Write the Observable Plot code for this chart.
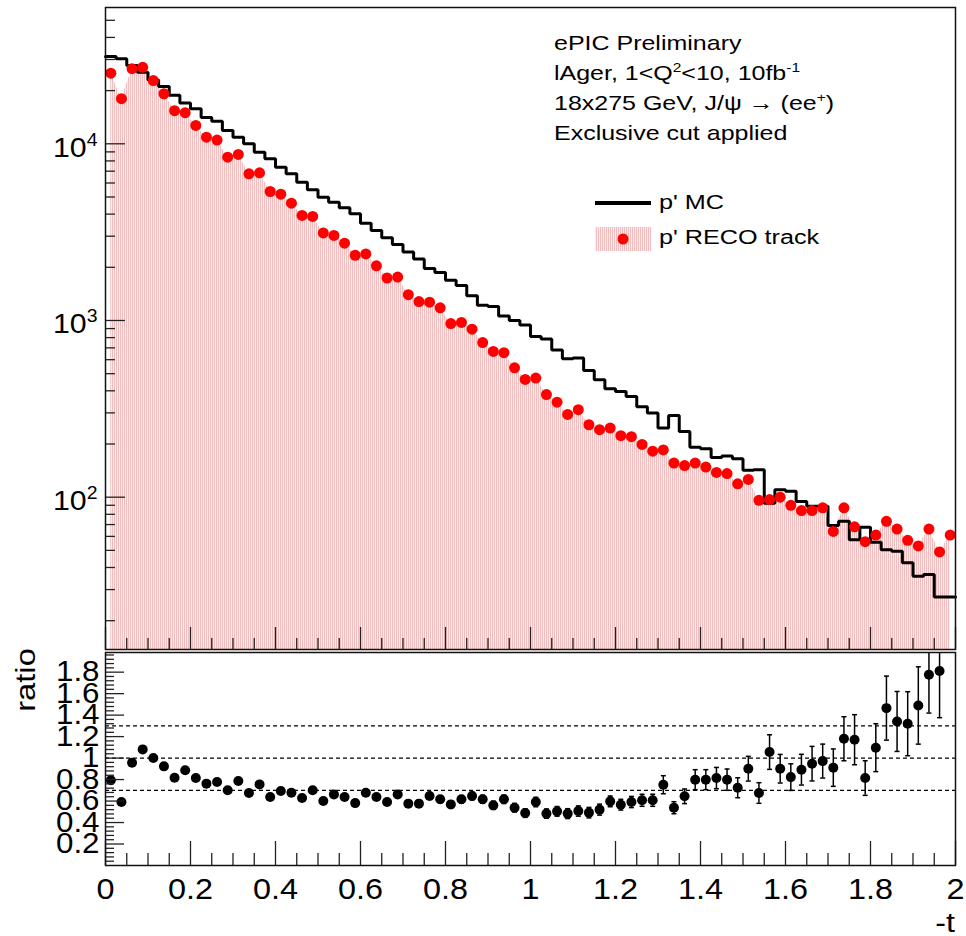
<!DOCTYPE html>
<html><head><meta charset="utf-8">
<script src="https://cdn.jsdelivr.net/npm/d3@7"></script>
<script src="https://cdn.jsdelivr.net/npm/@observablehq/plot@0.6"></script>
<style>
html,body{margin:0;padding:0;background:#fff;}
#wrap{position:relative;width:966px;height:936px;overflow:hidden;}
#wrap svg{position:absolute;left:0;display:block;overflow:visible;}
</style></head><body><div id="wrap"></div>
<script>
// ---- data ----
const binWidth = 0.025;           // -t bin width
const nBins = 80;                 // 0 .. 2
const recoCounts = [25100, 18000, 26600, 27100, 22800, 19200, 15400, 15000, 12700, 10900,
  10500, 8400, 8700, 6760, 6850, 5370, 5190, 4610, 3930, 3880,
  3130, 3030, 2740, 2340, 2380, 2040, 1740, 1760, 1400, 1280,
  1270, 1180, 960, 975, 893, 750, 668, 657, 540, 464,
  472, 381, 345, 294, 313, 257, 241, 246, 223, 220,
  199, 182, 185, 156, 151, 156, 148, 138, 136, 119,
  126, 96, 97, 100, 90, 84, 84, 87, 64, 87,
  68, 56, 61, 73, 66, 57, 53, 66, 49, 61];
const mcCounts = [31200, 30300, 27700, 25400, 23000, 21100, 18800, 17000, 15800, 14100,
  13400, 11900, 10900, 10000, 8970, 8230, 7370, 6770, 6060, 5490,
  4990, 4670, 4340, 4020, 3550, 3230, 2940, 2690, 2440, 2230,
  1970, 1870, 1690, 1580, 1380, 1220, 1200, 1060, 1000, 943,
  812, 786, 681, 608, 613, 521, 462, 411, 396, 371,
  325, 300, 246, 290, 235, 192, 188, 168, 171, 165,
  142, 143, 92.5, 110, 108, 94.6, 88.9, 88.9, 69.2, 73.1,
  57.4, 67.6, 55.6, 50.4, 49.5, 42.5, 35.7, 36.5, 27.2, 27.2];
const ratioValues = [0.793, 0.591, 0.957, 1.081, 1.0, 0.923, 0.817, 0.886, 0.814, 0.762,
  0.777, 0.70, 0.786, 0.675, 0.755, 0.637, 0.693, 0.678, 0.628, 0.70,
  0.60, 0.662, 0.637, 0.581, 0.678, 0.637, 0.591, 0.662, 0.576, 0.576,
  0.647, 0.616, 0.569, 0.616, 0.647, 0.616, 0.56, 0.616, 0.538, 0.488,
  0.591, 0.483, 0.504, 0.483, 0.507, 0.492, 0.52, 0.597, 0.566, 0.591,
  0.607, 0.607, 0.752, 0.538, 0.644, 0.799, 0.799, 0.814, 0.799, 0.724,
  0.901, 0.675, 1.056, 0.901, 0.823, 0.892, 0.948, 0.972, 0.911, 1.18,
  1.171, 0.814, 1.097, 1.465, 1.341, 1.32, 1.49, 1.776, 1.81, null];
const ratioErrors = [0.012, 0.010, 0.013, 0.014, 0.014, 0.014, 0.013, 0.015, 0.015, 0.015,
  0.016, 0.016, 0.017, 0.017, 0.018, 0.018, 0.019, 0.019, 0.020, 0.021,
  0.021, 0.022, 0.023, 0.023, 0.025, 0.025, 0.026, 0.027, 0.028, 0.029,
  0.031, 0.032, 0.033, 0.034, 0.036, 0.037, 0.038, 0.039, 0.040, 0.040,
  0.044, 0.043, 0.045, 0.046, 0.048, 0.049, 0.051, 0.050, 0.050, 0.052,
  0.056, 0.056, 0.084, 0.056, 0.068, 0.093, 0.093, 0.099, 0.099, 0.093,
  0.115, 0.096, 0.161, 0.133, 0.124, 0.143, 0.161, 0.158, 0.174, 0.205,
  0.233, 0.161, 0.223, 0.298, 0.279, 0.298, 0.36, 0.357, 0.434, null];
const xTickLabels = [0, 0.2, 0.4, 0.6, 0.8, 1, 1.2, 1.4, 1.6, 1.8, 2];
const yTickLabelsTop = [100, 1000, 10000];
const yTickLabelsRatio = [0.2, 0.4, 0.6, 0.8, 1, 1.2, 1.4, 1.6, 1.8];
const ratioRefLines = [0.7, 1, 1.3];
const legendLines = ["ePIC Preliminary", "lAger, 1<Q^{2}<10, 10fb^{-1}", "18x275 GeV, J/\u03C8 \u2192 (ee^{+})", "Exclusive cut applied"];
const seriesNames = ["p' MC", "p' RECO track"];

// ---- derived tables ----
const bins = recoCounts.map((reco, i) => ({
  lo: i * binWidth, hi: (i + 1) * binWidth, c: (i + 0.5) * binWidth,
  reco, mc: mcCounts[i], r: ratioValues[i], e: ratioErrors[i]
}));
const mcSteps = bins.flatMap(b => [{x: b.lo, y: b.mc}, {x: b.hi, y: b.mc}]);
const ratioPts = bins.filter(b => b.r != null);
const xMinor = d3.range(0, 2.0001, 0.05).map(v => +v.toFixed(3)).filter(v => Math.abs(v * 5 - Math.round(v * 5)) > 1e-6);
const yMinorTop = [1, 2, 3, 4].flatMap(p => d3.range(2, 10).map(k => k * 10 ** p)).filter(v => v > 13.74 && v < 59070);
const yMinorRatio = d3.range(1, 50).map(k => +(k * 0.04).toFixed(2)).filter(v => Math.abs(v * 5 - Math.round(v * 5)) > 1e-6);

const FONT = '"Liberation Sans", Arial, Helvetica, sans-serif';
const Y0 = 13.74, Y1 = 59070;
const topH = 650, topPlotH = 650 - 7 - 1;
const ratioH = 286, ratioPlotH = 286 - 2 - 71;
const plotW = 966 - 105 - 11;
const fmt = d => String(+d.toFixed(2));

const topPlot = Plot.plot({
  width: 966, height: topH,
  marginLeft: 105, marginRight: 11, marginTop: 7, marginBottom: 1,
  style: {fontFamily: FONT, background: "transparent", overflow: "visible"},
  x: {domain: [0, 2], axis: null, label: null},
  y: {type: "log", domain: [Y0, Y1], axis: null, label: null},
  marks: [
    Plot.areaY(bins, {x: "c", y1: Y0, y2: "reco", fill: "url(#hatch)"}),
    Plot.line(mcSteps, {x: "x", y: "y", stroke: "black", strokeWidth: 3, strokeLinejoin: "miter"}),
    Plot.dot(bins, {x: "c", y: "reco", r: 5.5, fill: "#ff0000"}),
    Plot.tickX(xTickLabels, {x: d => d, insetTop: topPlotH - 22, stroke: "#222", strokeWidth: 1.3}),
    Plot.tickX(xMinor, {x: d => d, insetTop: topPlotH - 11, stroke: "#222", strokeWidth: 1.3}),
    Plot.tickY(yTickLabelsTop, {y: d => d, insetRight: plotW - 20, stroke: "#222", strokeWidth: 1.3}),
    Plot.tickY(yMinorTop, {y: d => d, insetRight: plotW - 10, stroke: "#222", strokeWidth: 1.3}),
    Plot.frame({stroke: "#111", strokeWidth: 1.5}),
    Plot.axisY({ticks: yTickLabelsTop, label: null, tickSize: 0, tickPadding: 8, fontSize: 28, dy: 4, tickFormat: d => String(Math.round(Math.log10(d)))})
  ]
});

const capSymbol = {draw(ctx) { ctx.moveTo(-2.5, 0); ctx.lineTo(2.5, 0); }};
const ratioPlot = Plot.plot({
  width: 966, height: ratioH,
  marginLeft: 105, marginRight: 11, marginTop: 2, marginBottom: 71,
  style: {fontFamily: FONT, background: "transparent", overflow: "visible"},
  x: {domain: [0, 2], axis: null, label: null},
  y: {domain: [0, 1.983], axis: null, label: null},
  marks: [
    Plot.ruleY(ratioRefLines, {y: d => d, stroke: "black", strokeWidth: 1.2, strokeDasharray: "4,3"}),
    Plot.ruleX(ratioPts, {x: "c", y1: d => d.r - d.e, y2: d => d.r + d.e, stroke: "black", strokeWidth: 1.5, clip: true}),
    Plot.dot(ratioPts, {x: "c", y: d => d.r - d.e, symbol: capSymbol, fill: "none", stroke: "black", strokeWidth: 1.5, clip: true}),
    Plot.dot(ratioPts, {x: "c", y: d => d.r + d.e, symbol: capSymbol, fill: "none", stroke: "black", strokeWidth: 1.5, clip: true}),
    Plot.dot(ratioPts, {x: "c", y: "r", r: 5, fill: "black"}),
    Plot.tickX(xTickLabels, {x: d => d, insetTop: ratioPlotH - 24, stroke: "#222", strokeWidth: 1.3}),
    Plot.tickX(xMinor, {x: d => d, insetTop: ratioPlotH - 12, stroke: "#222", strokeWidth: 1.3}),
    Plot.tickY(yTickLabelsRatio, {y: d => d, insetRight: plotW - 19, stroke: "#222", strokeWidth: 1.3}),
    Plot.tickY(yMinorRatio, {y: d => d, insetRight: plotW - 9, stroke: "#222", strokeWidth: 1.3}),
    Plot.frame({stroke: "#111", strokeWidth: 1.5}),
    Plot.axisX({ticks: xTickLabels, label: null, tickSize: 0, tickPadding: 12, fontSize: 30, tickFormat: fmt}),
    Plot.axisY({ticks: yTickLabelsRatio, label: null, tickSize: 0, tickPadding: 6, fontSize: 29, tickFormat: fmt})
  ]
});

const wrap = document.getElementById("wrap");
topPlot.style.top = "0px";
ratioPlot.style.top = "650px";
wrap.appendChild(topPlot);
wrap.appendChild(ratioPlot);

const NS = "http://www.w3.org/2000/svg";
// hatch pattern (fine vertical red hatching)
const defs = d3.select(topPlot).insert("defs", ":first-child");
const pat = defs.append("pattern").attr("id", "hatch").attr("width", 2).attr("height", 2).attr("patternUnits", "userSpaceOnUse");
pat.append("rect").attr("width", 2).attr("height", 2).attr("fill", "#fdeeee");
pat.append("rect").attr("width", 1).attr("height", 2).attr("fill", "#efbdbd");

// widen tick labels a little (the reference font renders wider)
function stretch(svg, sx) {
  svg.querySelectorAll('g[aria-label$="tick label"] text').forEach(t => {
    const tr = t.getAttribute("transform") || "";
    t.setAttribute("transform", `${tr} scale(${sx},1)`);
  });
}
// superscripts on the log axis
topPlot.querySelectorAll('g[aria-label="y-axis tick label"] text').forEach(t => {
  const e = t.textContent;
  t.textContent = "10";
  const ts = document.createElementNS(NS, "tspan");
  ts.setAttribute("dy", "-11");
  ts.setAttribute("font-size", "18");
  ts.textContent = e;
  t.appendChild(ts);
});
stretch(topPlot, 1.08);
stretch(ratioPlot, 1.08);

// rich text helper: "^{...}" makes superscript
function richText(parent, str, x, y, size, sx, anchor) {
  const t = parent.append("text").attr("transform", `translate(${x},${y}) scale(${sx},1)`)
    .attr("font-family", FONT).attr("font-size", size).attr("fill", "black").attr("text-anchor", anchor || "start");
  const re = /\^\{([^}]*)\}/g;
  let last = 0, m, shift = 0;
  const supSize = Math.round(size * 0.62), up = Math.round(size * 0.4);
  while ((m = re.exec(str))) {
    if (m.index > last) { t.append("tspan").attr("dy", shift ? up : 0).text(str.slice(last, m.index)); shift = 0; }
    t.append("tspan").attr("dy", shift ? 0 : -up).attr("font-size", supSize).text(m[1]);
    shift = 1;
    last = re.lastIndex;
  }
  if (last < str.length) t.append("tspan").attr("dy", shift ? up : 0).text(str.slice(last));
  return t;
}

const gTop = d3.select(topPlot).append("g");
legendLines.forEach((s, i) => richText(gTop, s, 554, 50 + 30 * i, 21, 1.19));
gTop.append("line").attr("x1", 595).attr("x2", 651).attr("y1", 203).attr("y2", 203).attr("stroke", "black").attr("stroke-width", 4);
gTop.append("rect").attr("x", 595).attr("y", 227).attr("width", 56).attr("height", 24).attr("fill", "url(#hatch)");
gTop.append("circle").attr("cx", 623).attr("cy", 239).attr("r", 5.5).attr("fill", "#ff0000");
richText(gTop, seriesNames[0], 659, 209, 21, 1.2);
richText(gTop, seriesNames[1], 659, 244, 21, 1.2);

const gR = d3.select(ratioPlot).append("g");
gR.append("text").attr("transform", "translate(35,30) rotate(-90) scale(1.17,1)")
  .attr("font-family", FONT).attr("font-size", 28).attr("text-anchor", "middle").text("ratio");
richText(gR, "-t", 955, 282, 28, 1.15, "end");
</script></body></html>
